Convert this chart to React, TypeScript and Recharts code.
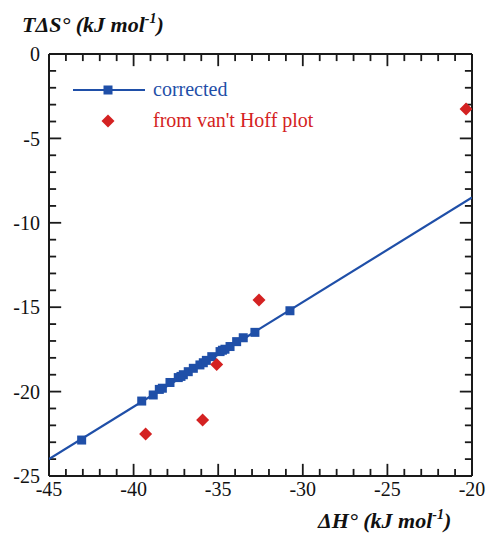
import React from 'react';
import { ScatterChart, Scatter, XAxis, YAxis, ReferenceLine } from 'recharts';

// corrected values (blue squares)
const correctedH = [-43.07, -39.52, -38.84, -38.48, -38.3, -37.85, -37.36, -37.2, -37.06, -36.77, -36.47, -36.08, -35.88, -35.7, -35.38, -34.89, -34.75, -34.6, -34.3, -33.91, -33.52, -32.83, -30.76];
const correctedTS = [-22.87, -20.56, -20.2, -19.87, -19.8, -19.46, -19.17, -19.1, -19.0, -18.82, -18.62, -18.42, -18.29, -18.15, -17.93, -17.63, -17.55, -17.49, -17.33, -17.04, -16.81, -16.49, -15.21];

// from van't Hoff plot (red diamonds)
const vanHoffH = [-39.29, -35.92, -35.09, -32.59, -20.35];
const vanHoffTS = [-22.51, -21.68, -18.39, -14.57, -3.26];

// fitted line through the corrected points
const fitH = [-45, -20];
const fitTS = [-24.0, -8.5];

const xTicks = [-45, -44, -43, -42, -41, -40, -39, -38, -37, -36, -35, -34, -33, -32, -31, -30, -29, -28, -27, -26, -25, -24, -23, -22, -21, -20];
const yTicks = [-25, -24, -23, -22, -21, -20, -19, -18, -17, -16, -15, -14, -13, -12, -11, -10, -9, -8, -7, -6, -5, -4, -3, -2, -1, 0];
const xLabels = [-45, -40, -35, -30, -25, -20];
const yLabels = [-25, -20, -15, -10, -5, 0];

const BLUE = '#1f4fa8';
const RED = '#d42222';
const AXIS = '#1a1a1a';
const FONT = 'Liberation Serif, Times New Roman, serif';

const X_MIN = -45, X_MAX = -20, Y_MIN = -25, Y_MAX = 0;

const toPts = (xs: number[], ys: number[]) => xs.map((x, i) => ({ x, y: ys[i] }));
const corrected = toPts(correctedH, correctedTS);
const vanHoff = toPts(vanHoffH, vanHoffTS);
const fit = toPts(fitH, fitTS);

const major = (v: number) => v % 5 === 0;
// tick lengths in data units (about 12px / 7px)
const tickLen = (v: number) => (major(v) ? 0.72 : 0.42);

const labelStyle = { fontSize: 20, fontFamily: FONT, fill: '#111' };

const Square = (props: any) => <rect x={props.cx - 4.5} y={props.cy - 4.5} width={9} height={9} fill={BLUE} />;
const Diamond = (props: any) => {
  const { cx, cy } = props;
  return <polygon points={`${cx},${cy - 6.5} ${cx + 6.5},${cy} ${cx},${cy + 6.5} ${cx - 6.5},${cy}`} fill={RED} />;
};

const seg = (key: string, a: { x: number; y: number }, b: { x: number; y: number }) => (
  <ReferenceLine key={key} segment={[a, b]} stroke={AXIS} strokeWidth={1.8} ifOverflow="visible" />
);

export default function App() {
  return (
    <div style={{ position: 'relative', width: 487, height: 534, fontFamily: FONT }}>
      <style>{`body{margin:0} .recharts-cartesian-axis-tick-value{font-family:${FONT};fill:#111}`}</style>
      <ScatterChart width={487} height={534} margin={{ top: 54, right: 15, bottom: 0, left: 0 }}>
        <XAxis type="number" dataKey="x" domain={[X_MIN, X_MAX]} ticks={xLabels} interval={0} allowDataOverflow
          height={58} tickSize={0} tickMargin={6} tickLine={false} axisLine={false} tick={labelStyle} />
        <YAxis type="number" dataKey="y" domain={[Y_MIN, Y_MAX]} ticks={yLabels} interval={0} allowDataOverflow
          width={49} tickSize={0} tickMargin={9} tickLine={false} axisLine={false} tick={labelStyle} />
        <ReferenceLine y={Y_MAX} stroke={AXIS} strokeWidth={2} ifOverflow="visible" />
        <ReferenceLine y={Y_MIN} stroke={AXIS} strokeWidth={2} ifOverflow="visible" />
        <ReferenceLine x={X_MIN} stroke={AXIS} strokeWidth={2} ifOverflow="visible" />
        <ReferenceLine x={X_MAX} stroke={AXIS} strokeWidth={2} ifOverflow="visible" />
        {xTicks.map((v) => seg(`b${v}`, { x: v, y: Y_MIN }, { x: v, y: Y_MIN + tickLen(v) }))}
        {xTicks.map((v) => seg(`t${v}`, { x: v, y: Y_MAX }, { x: v, y: Y_MAX - tickLen(v) }))}
        {yTicks.map((v) => seg(`l${v}`, { x: X_MIN, y: v }, { x: X_MIN + tickLen(v), y: v }))}
        {yTicks.map((v) => seg(`r${v}`, { x: X_MAX, y: v }, { x: X_MAX - tickLen(v), y: v }))}
        <Scatter data={fit} line={{ stroke: BLUE, strokeWidth: 2.2 }} shape={() => <g />} isAnimationActive={false} />
        <Scatter data={corrected} shape={Square} isAnimationActive={false} />
        <Scatter data={vanHoff} shape={Diamond} isAnimationActive={false} />
      </ScatterChart>
      <svg width={487} height={534} style={{ position: 'absolute', left: 0, top: 0, pointerEvents: 'none' }}>
        <text x={22} y={32} fontSize={22} fontWeight="bold" fontStyle="italic" fontFamily={FONT} fill="#111">
          TΔS° (kJ mol<tspan dy={-9} fontSize={14}>-1</tspan><tspan dy={9}>)</tspan>
        </text>
        <text x={318} y={528} fontSize={22} fontWeight="bold" fontStyle="italic" fontFamily={FONT} fill="#111">
          ΔH° (kJ mol<tspan dy={-9} fontSize={14}>-1</tspan><tspan dy={9}>)</tspan>
        </text>
        <line x1={73} y1={90} x2={145} y2={90} stroke={BLUE} strokeWidth={2.2} />
        <rect x={103.5} y={85.5} width={9} height={9} fill={BLUE} />
        <text x={153} y={96} fontSize={20} fontFamily={FONT} fill={BLUE}>corrected</text>
        <polygon points="108,114.5 114.5,121 108,127.5 101.5,121" fill={RED} />
        <text x={153} y={127} fontSize={20} fontFamily={FONT} fill={RED}>from van't Hoff plot</text>
      </svg>
    </div>
  );
}
